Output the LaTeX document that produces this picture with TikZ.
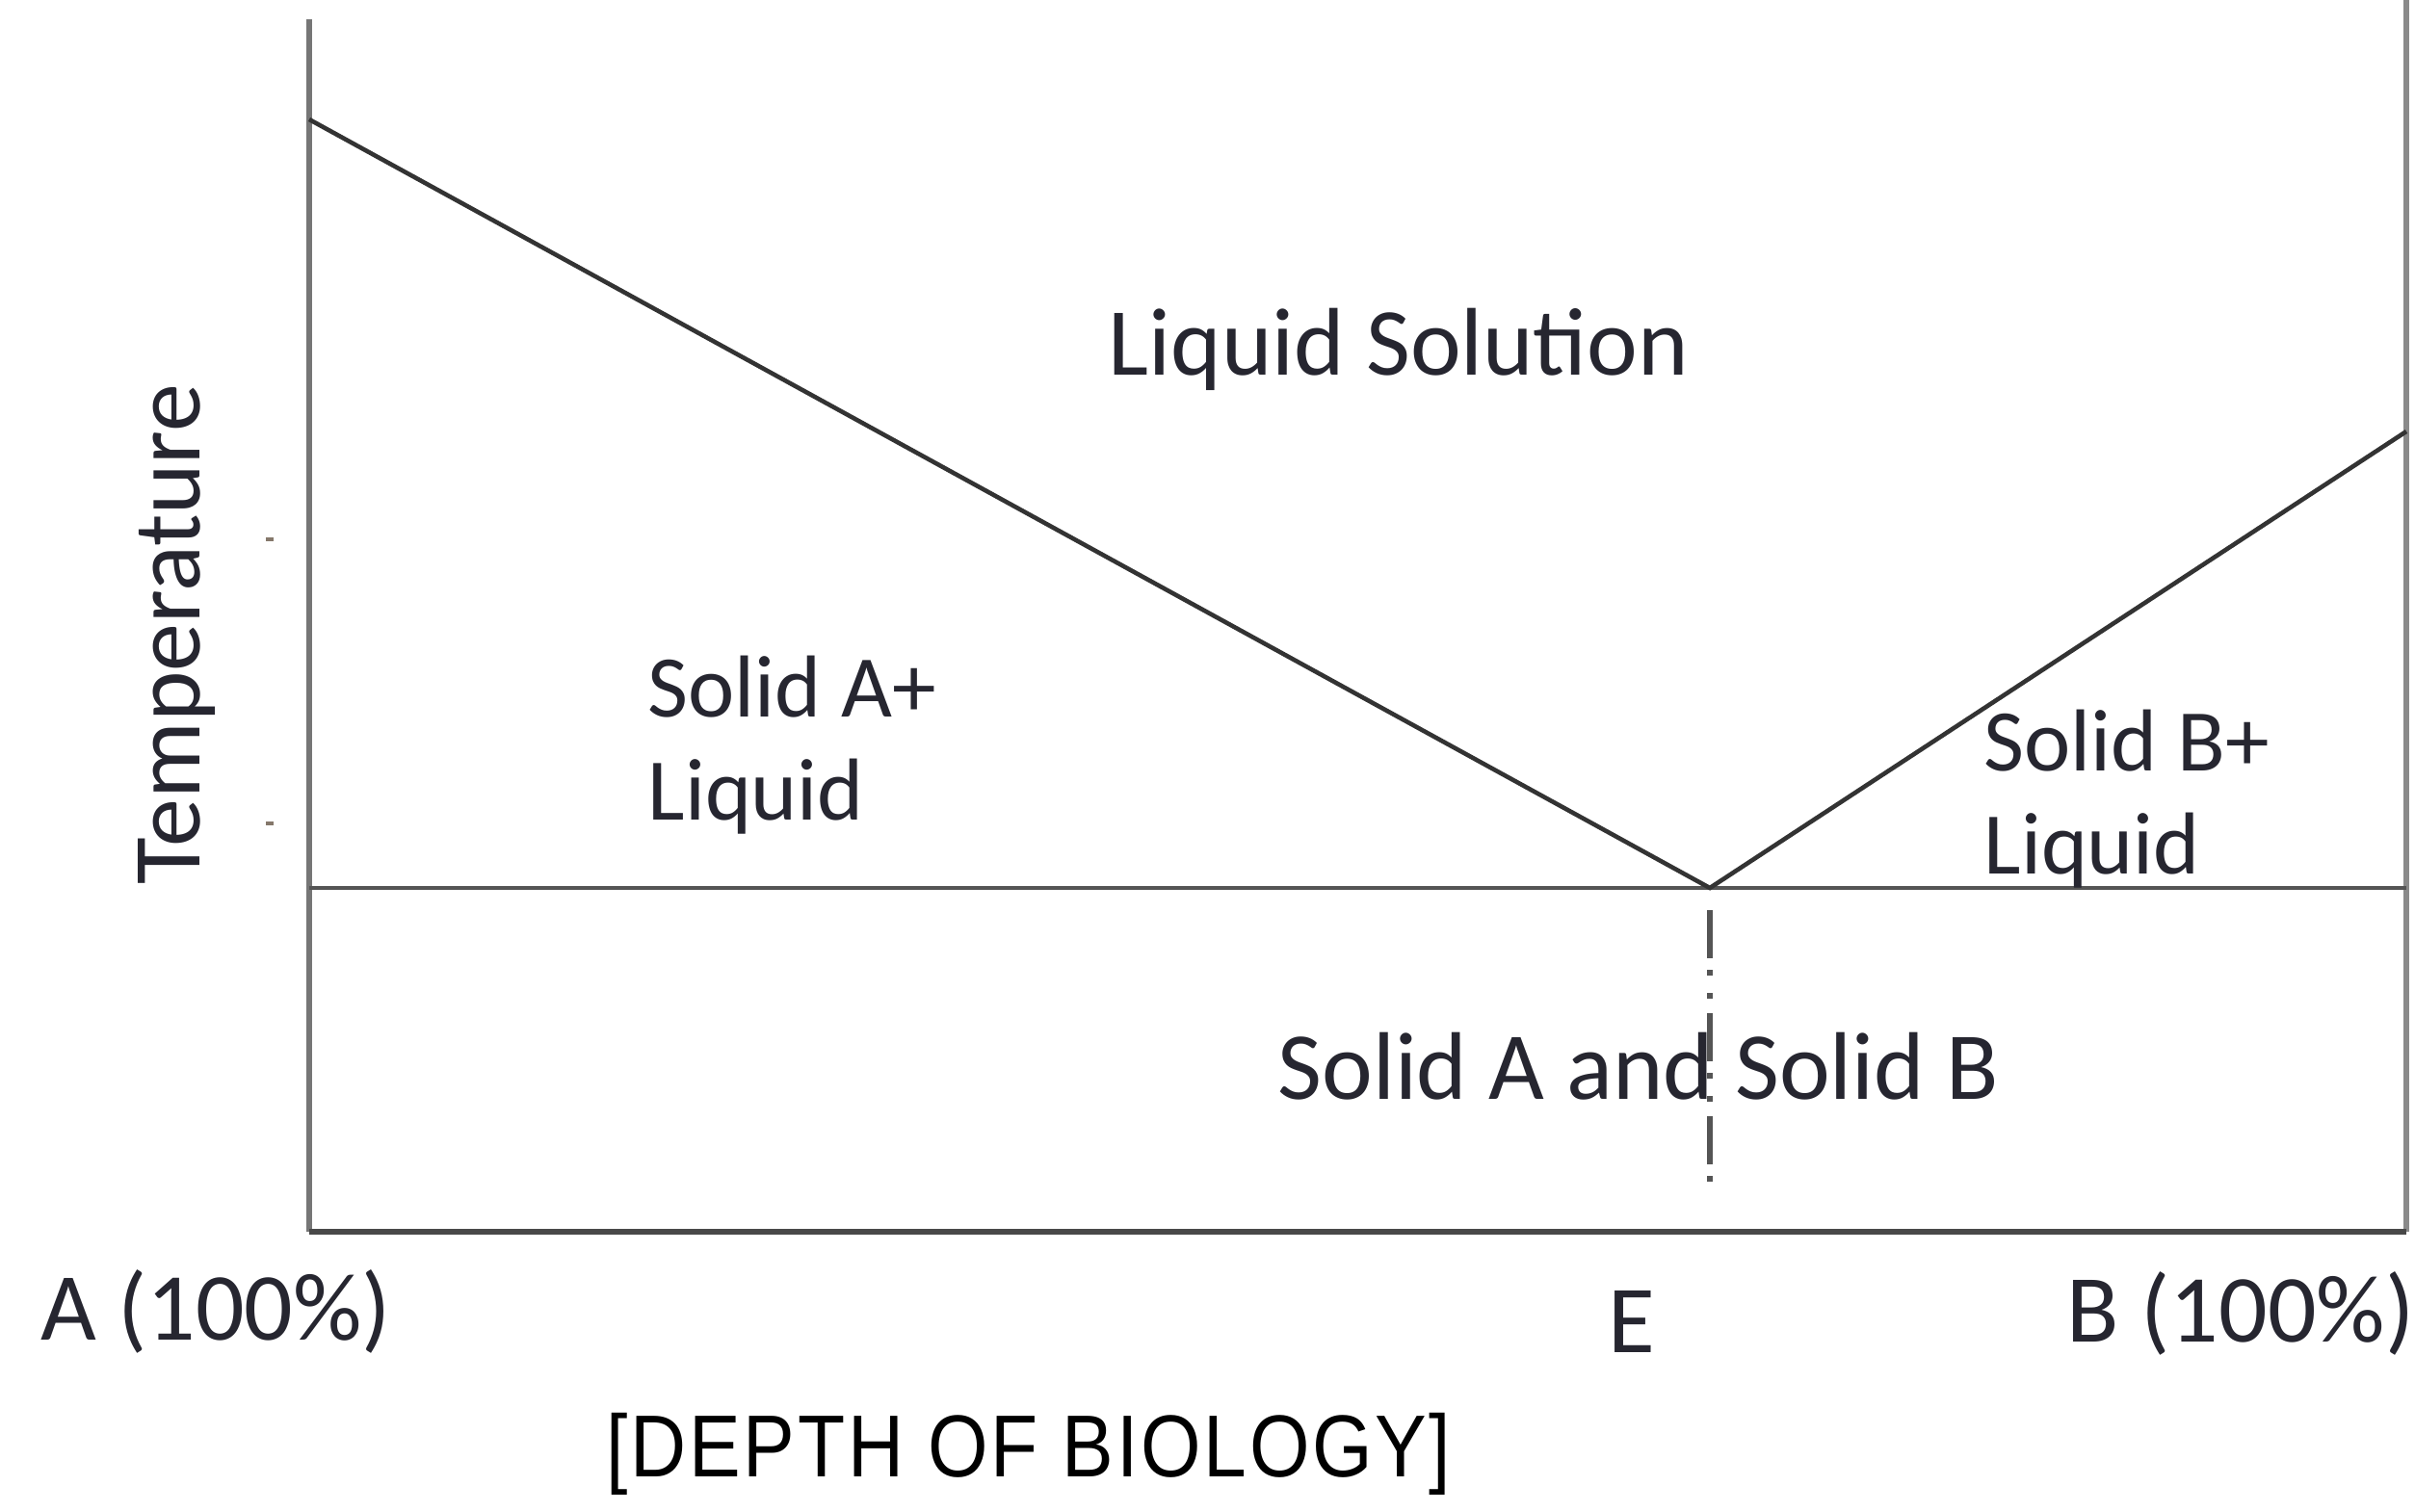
\documentclass[tikz,border=0pt]{standalone}
\usepackage{fontspec}
\setmainfont{Carlito}
\newfontfamily\capfont[FakeStretch=0.88, LetterSpace=3]{Liberation Sans}

\definecolor{axisgray}{HTML}{767676}
\definecolor{linegray}{HTML}{555555}
\definecolor{curvegray}{HTML}{333333}
\definecolor{textgray}{HTML}{262630}

\tikzset{
  phase/.style={text=textgray, inner sep=0pt, font=\fontsize{28.4}{31.9}\selectfont},
  region/.style={phase, align=left, anchor=west, font=\fontsize{26}{30.4}\selectfont},
}

\begin{document}
\begin{tikzpicture}
			\useasboundingbox (0,0) rectangle (25.07,-15.70);
			% frame corners and the eutectic point
			\coordinate (T) at (3.21,-0.20);
			\coordinate (O) at (3.21,-12.79);
			\coordinate (RT) at (24.98,0);
			\coordinate (R) at (24.98,-12.79);
			\coordinate (EL) at (3.21,-9.22);
			\coordinate (ER) at (24.98,-9.22);
			\coordinate (E) at (17.75,-9.22);
			\coordinate (MA) at (3.21,-1.24);
			\coordinate (MB) at (24.98,-4.48);
			\coordinate (E1) at (17.75,-9.45);
			\coordinate (E2) at (17.75,-12.33);
			\draw[axisgray, line width=1.9pt] (T) -- (O);
			\draw[axisgray!85, line width=1.9pt] (RT) -- (R);
			\draw[linegray!85!black, line width=1.9pt] (O) -- (R);
			\draw[linegray, line width=1.4pt] (EL) -- (ER);
			\draw[curvegray, line width=1.3pt] (MA) -- (E) -- (MB);
			\draw[linegray, line width=1.5pt, dash pattern={on 5mm off 1.2mm on 0.6mm off 1.8mm on 0.6mm off 1.5mm}] (E1) -- (E2);
			\coordinate (K1) at (2.76,-5.60);
			\coordinate (K2) at (2.84,-5.60);
			\coordinate (K3) at (2.76,-8.55);
			\coordinate (K4) at (2.84,-8.55);
			\draw[axisgray!80!brown, line width=1.2pt] (K1) -- (K2) (K3) -- (K4);
			\node[phase](N1) at (14.52,-3.63){Liquid Solution};
			\node[region](N2) at (6.72,-7.74){Solid A+\\Liquid};
			\node[region](N3) at (20.59,-8.30){Solid B+\\Liquid};
			\node[phase](N4) at (17.01,-11.07){Solid A and Solid B};
			\node[phase](N5) at (2.24,-13.62){A (100\%)};
			\node[phase](N6) at (16.94,-13.72){E};
			\node[phase](N7) at (23.26,-13.64){B (100\%)};
			\node[phase, rotate=90](N8) at (1.84,-6.59){Temperature};
			\node[inner sep=0pt, font=\capfont\fontsize{26}{31}\selectfont](N9) at (10.68,-15.10){[DEPTH OF BIOLOGY]};
		\end{tikzpicture}
\end{document}
